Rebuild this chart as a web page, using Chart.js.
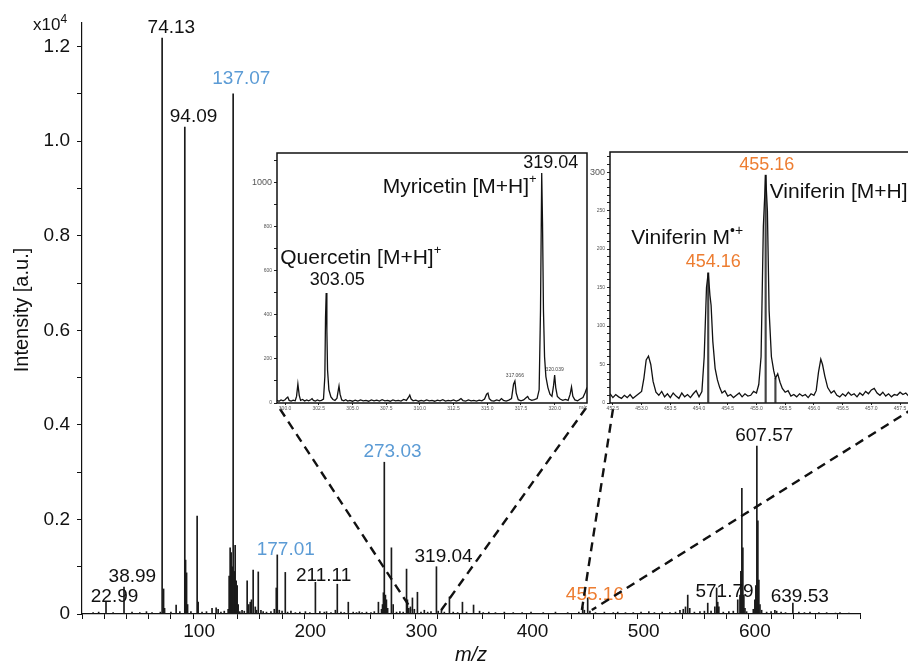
<!DOCTYPE html>
<html><head><meta charset="utf-8">
<script src="https://cdn.jsdelivr.net/npm/chart.js@4.4.1/dist/chart.umd.min.js"></script>
<style>
html,body{margin:0;padding:0;background:#fff;overflow:hidden;width:908px;height:664px;}
#wrap{position:relative;width:908px;height:664px;overflow:hidden;}
canvas{position:absolute;}
</style></head><body>
<div id="wrap">
<canvas id="main" width="908" height="664" style="left:0;top:0;"></canvas>
<canvas id="ins1" width="352" height="272" style="left:240px;top:145px;"></canvas>
<canvas id="ins2" width="345" height="272" style="left:575px;top:145px;"></canvas>
</div>
<script>
const FONT = "'Liberation Sans', Arial, Helvetica, sans-serif";

// ---------- main spectrum (intensity in x10^4 a.u.) ----------
const mainMz = [10,15,21.6,28,37.8,45,52,58,63,70.5,72.1,73.4,74.3,80,84.7,88,92.5,93.2,94.1,95,98,103.6,104.5,108,112,117,120.7,122.5,125,128,
131.5,132.4,133.3,134.2,135.1,136,137,137.8,138.7,139.6,140.5,142,144,146,148.6,150,151.4,152.5,154,155.9,157,158.6,161,163,166,170,173,174.8,175.7,177.5,
180,182.9,185,188,192,196,201,205,210,214,218,220,224,228,229.7,233,236,239.6,244,247,249.5,252,256,260,263,266.7,269.5,270.4,271.2,272,273,273.9,275,278.4,280,
283,286,289,292,292.8,294,295.5,297.3,299,301.8,305,308,311,314,318.9,320.5,323.4,326,330.6,334,338,342.3,346,352.3,357.7,361,366,372,380,388,396,404,415,426,437,447,
450.5,452,455,457,462,470,478,482,489,496,503,510,515,522,529,534,538,541,543,545,546.8,551,556,560,563,566,569.4,571,572,573,577,582,586,590,592,592.8,593.7,594.6,595.5,596.5,598,
604,605.4,606.3,607.2,608.1,609,610,611.5,616,620,623.4,625,629,633,639.6,645,650,655,663,670,678,682,690];
const mainInt = [0.003,0.004,0.025,0.003,0.057,0.004,0.003,0.005,0.003,0.004,1.218,0.053,0.012,0.004,0.019,0.005,1.03,0.114,0.087,0.02,0.005,0.207,0.025,0.004,0.005,0.012,0.013,0.01,0.004,0.006,
0.01,0.08,0.14,0.13,0.1,1.10,0.09,0.145,0.07,0.06,0.02,0.005,0.008,0.006,0.07,0.02,0.025,0.03,0.093,0.015,0.008,0.089,0.008,0.005,0.004,0.005,0.01,0.055,0.125,0.008,
0.006,0.088,0.004,0.006,0.003,0.004,0.005,0.003,0.067,0.005,0.004,0.005,0.003,0.008,0.063,0.004,0.003,0.025,0.004,0.003,0.005,0.003,0.004,0.003,0.005,0.025,0.01,0.02,0.045,0.321,0.04,0.03,0.012,0.14,0.02,
0.004,0.005,0.004,0.095,0.03,0.012,0.015,0.034,0.01,0.046,0.004,0.008,0.004,0.005,0.1,0.006,0.01,0.004,0.036,0.004,0.003,0.025,0.004,0.019,0.006,0.003,0.004,0.003,0.004,0.003,0.003,0.004,0.003,0.004,0.003,0.004,
0.015,0.008,0.034,0.006,0.003,0.004,0.003,0.004,0.003,0.003,0.004,0.005,0.003,0.004,0.003,0.004,0.008,0.01,0.015,0.04,0.012,0.004,0.005,0.006,0.023,0.006,0.015,0.055,0.025,0.015,0.004,0.005,0.006,0.03,0.04,0.09,0.266,0.14,0.04,0.012,0.005,
0.01,0.03,0.06,0.355,0.197,0.072,0.02,0.008,0.004,0.005,0.008,0.006,0.004,0.003,0.023,0.004,0.003,0.004,0.003,0.003,0.002,0.003,0.002];

const peakLabels = ['22.99','38.99','74.13','94.09','137.07','177.01','211.11','273.03','319.04','455.16','571.79','607.57','639.53'];
const peakLabelAt = [0.015,0.057,1.218,1.03,1.11,0.115,0.06,0.321,0.1,0.02,0.025,0.355,0.015];
const peakLabelKind = ['k','k','k','k','b','b','k','b','k','o','k','k','k'];
const COLORS = {k:'#111', b:'#5B9BD5', o:'#ED7D31'};

// ---------- inset 1: 299.4 - 322.4 ----------
const ins1Mz = [299.40,299.55,299.70,299.85,300.00,300.10,300.20,300.30,300.45,300.60,300.75,300.85,300.95,301.05,301.15,301.30,301.45,301.60,301.75,301.90,
302.00,302.10,302.25,302.40,302.55,302.70,302.85,302.95,303.00,303.05,303.10,303.15,303.25,303.40,303.55,303.70,303.85,303.95,304.00,304.08,304.20,304.35,304.50,304.65,304.80,
305.00,305.20,305.40,305.60,305.80,306.00,306.20,306.40,306.60,306.80,307.00,307.20,307.40,307.60,307.80,308.00,308.20,308.40,308.60,308.80,309.00,309.15,309.25,309.35,309.50,309.70,309.90,
310.10,310.30,310.50,310.70,310.90,311.10,311.30,311.50,311.70,311.90,312.10,312.30,312.50,312.70,312.90,313.05,313.20,313.40,313.60,313.80,314.00,314.20,314.40,314.60,314.80,314.95,315.05,315.15,315.30,
315.50,315.70,315.90,316.05,316.20,316.40,316.60,316.80,316.95,317.05,317.15,317.30,317.50,317.70,317.90,318.00,318.10,318.30,318.50,318.70,318.85,318.95,319.04,319.10,319.17,319.25,319.35,319.50,319.65,319.80,319.92,
320.00,320.08,320.20,320.40,320.60,320.80,321.00,321.15,321.25,321.35,321.50,321.70,321.90,322.10,322.25,322.40];
const ins1Int = [12,8,14,10,15,22,27,12,9,13,10,30,86,35,12,16,9,14,10,15,
20,12,9,14,10,12,18,120,390,500,330,150,60,28,16,12,22,60,77,40,14,10,15,9,12,
8,13,9,14,10,12,8,14,10,13,9,15,10,12,8,14,10,12,9,16,12,25,36,18,10,13,8,
12,9,14,10,12,8,13,10,15,9,12,10,14,9,13,20,11,9,14,10,12,9,13,10,18,40,45,20,11,
9,14,10,20,12,9,13,20,85,100,45,15,10,14,25,30,18,12,15,20,60,420,1045,820,420,210,120,70,40,30,80,
127,70,30,18,12,16,12,40,73,30,14,10,18,25,45,70];

// ---------- inset 2: 452.45 - 457.76 ----------
const ins2Mz = [452.45,452.50,452.55,452.60,452.65,452.70,452.75,452.80,452.85,452.90,452.95,453.00,453.04,453.08,453.12,453.16,453.20,453.25,453.30,453.35,453.40,453.45,453.50,453.55,453.60,453.65,453.70,453.75,453.80,453.85,453.90,453.95,
454.00,454.05,454.09,454.13,454.16,454.19,454.21,454.24,454.28,454.32,454.36,454.40,454.45,454.50,454.55,454.60,454.65,454.70,454.75,454.80,454.85,454.90,454.95,
455.00,455.04,455.08,455.12,455.16,455.19,455.22,455.26,455.30,455.33,455.37,455.41,455.45,455.50,455.55,455.60,455.65,455.70,455.75,455.80,455.85,455.90,455.95,
456.00,456.04,456.08,456.12,456.15,456.19,456.24,456.30,456.35,456.40,456.45,456.50,456.55,456.60,456.65,456.70,456.75,456.80,456.85,456.90,456.95,
457.00,457.05,457.10,457.15,457.20,457.25,457.30,457.35,457.40,457.45,457.50,457.55,457.60,457.65,457.70,457.76];
const ins2Int = [12,7,11,8,6,10,7,11,6,9,12,15,32,56,61,50,28,14,10,15,8,12,7,13,9,6,13,8,11,7,12,16,
8,15,60,150,169,140,127,80,45,30,20,13,16,9,11,7,10,13,8,12,9,10,15,
13,24,60,230,296,250,120,60,42,32,38,27,19,14,16,9,11,8,12,9,11,7,12,
10,16,40,57,50,35,20,13,16,10,8,12,9,14,10,12,8,13,10,15,12,
17,19,13,10,14,9,12,8,11,10,14,11,13,9,12,18];
const ins2StickMz = [454.16,455.16,455.33];
const ins2StickInt = [169,296,32];

// ---------- helpers ----------
function textRun(ctx, runs, x, y, align){
  let w = 0;
  runs.forEach(r=>{ ctx.font = r[1]+'px '+FONT; w += ctx.measureText(r[0]).width; });
  let sx = align==='right' ? x-w : (align==='center' ? x-w/2 : x);
  ctx.textAlign='left'; ctx.textBaseline='middle';
  runs.forEach(r=>{ ctx.font = r[1]+'px '+FONT; ctx.fillText(r[0], sx, y - r[2]); sx += ctx.measureText(r[0]).width; });
}
const pts = (xs, ys) => xs.map((x,i)=>({x:x, y:ys[i]}));

function insetOptions(o){
  return {
    responsive:false, animation:false, devicePixelRatio: window.devicePixelRatio||1,
    layout:{padding:{left:0, top:o.padTop, right:5, bottom:0}},
    plugins:{legend:{display:false}, tooltip:{enabled:false}},
    scales:{
      x:{type:'linear', min:o.xmin, max:o.xmax, offset:false,
        ticks:{stepSize:o.xstep, includeBounds:false, autoSkip:false, maxRotation:0, padding:1,
          font:{family:FONT, size:5}, color:'#555', callback:v=>v.toFixed(1)},
        grid:{display:true, drawOnChartArea:false, drawTicks:true, tickLength:2, color:'#222', offset:false},
        border:{display:false},
        afterFit:s=>{ s.height = 14; }
      },
      y:{min:0, max:o.ymax,
        ticks:{stepSize:o.ystep, includeBounds:false, autoSkip:false, padding:2, color:'#555',
          font:(c)=>({family:FONT, size:(c.tick && c.tick.value===o.bigTick) ? 9 : 5}),
          callback:v=> (Math.round(v)%o.ylab===0) ? String(Math.round(v)) : ''},
        grid:{display:true, drawOnChartArea:false, drawTicks:true, tickLength:3, color:'#222'},
        border:{display:false},
        afterFit:s=>{ s.width = o.yW; }
      }
    }
  };
}
const boxPlugin = {
  id:'box',
  beforeDatasetsDraw(chart){
    const a = chart.chartArea, ctx = chart.ctx;
    ctx.save(); ctx.fillStyle='#fff'; ctx.fillRect(a.left, a.top, a.right-a.left, a.bottom-a.top); ctx.restore();
  },
  afterDatasetsDraw(chart){
    const a = chart.chartArea, ctx = chart.ctx;
    ctx.save(); ctx.strokeStyle='#111'; ctx.lineWidth=1.5;
    ctx.strokeRect(a.left, a.top, a.right-a.left, a.bottom-a.top); ctx.restore();
  }
};

// ---------- inset 1 ----------
const ins1 = new Chart(document.getElementById('ins1'), {
  type:'line',
  data:{datasets:[{data:pts(ins1Mz, ins1Int), borderColor:'#111', borderWidth:1.3, pointRadius:0, tension:0}]},
  options: insetOptions({padTop:8, xmin:299.4, xmax:322.4, xstep:2.5, ymax:1136, ystep:100, ylab:200, bigTick:1000, yW:37}),
  plugins:[boxPlugin, {
    id:'lab1',
    afterDraw(chart){
      const ctx = chart.ctx, xs = chart.scales.x, ys = chart.scales.y, a = chart.chartArea;
      ctx.save(); ctx.fillStyle='#111';
      const mX = xs.getPixelForValue(319.04), mY = ys.getPixelForValue(1045);
      textRun(ctx, [['319.04',18,0]], mX+9, mY-10, 'center');
      textRun(ctx, [['Myricetin [M+H]',21,0],['+',13,8]], mX-5, mY+14, 'right');
      const qX = xs.getPixelForValue(303.05), qY = ys.getPixelForValue(500);
      textRun(ctx, [['Quercetin [M+H]',21,0],['+',13,8]], qX-46, qY-35, 'left');
      textRun(ctx, [['303.05',18,0]], qX+11, qY-13, 'center');
      ctx.fillStyle='#444';
      textRun(ctx, [['317.066',5,0]], xs.getPixelForValue(317.05), ys.getPixelForValue(100)-5, 'center');
      textRun(ctx, [['320.039',5,0]], xs.getPixelForValue(320.0), ys.getPixelForValue(127)-5, 'center');
      ctx.fillStyle='#555';
      textRun(ctx, [['m/z',5,0]], a.right-4, a.bottom+5, 'center');
      ctx.restore();
    }
  }]
});

// ---------- inset 2 ----------
const ins2 = new Chart(document.getElementById('ins2'), {
  type:'line',
  data:{datasets:[
    {type:'line', data:pts(ins2Mz, ins2Int), borderColor:'#111', borderWidth:1.3, pointRadius:0, tension:0},
    {type:'bar', data:pts(ins2StickMz, ins2StickInt), backgroundColor:'#444', barThickness:1.5, grouped:false}
  ]},
  options: insetOptions({padTop:7, xmin:452.45, xmax:457.76, xstep:0.5, ymax:326, ystep:10, ylab:50, bigTick:300, yW:35}),
  plugins:[boxPlugin, {
    id:'lab2',
    afterDraw(chart){
      const ctx = chart.ctx, xs = chart.scales.x, ys = chart.scales.y;
      ctx.save();
      const aX = xs.getPixelForValue(455.16), aY = ys.getPixelForValue(296);
      ctx.fillStyle = COLORS.o;
      textRun(ctx, [['455.16',18,0]], aX+1, aY-10, 'center');
      ctx.fillStyle = '#111';
      textRun(ctx, [['Viniferin [M+H]',21,0],['+',13,8]], aX+4, aY+17, 'left');
      const bX = xs.getPixelForValue(454.16), bY = ys.getPixelForValue(169);
      textRun(ctx, [['Viniferin M',21,0],['\u2022+',14,7]], bX-77, bY-35, 'left');
      ctx.fillStyle = COLORS.o;
      textRun(ctx, [['454.16',18,0]], bX+5, bY-11, 'center');
      ctx.restore();
    }
  }]
});

const insets = [{chart:ins1, left:240, top:145}, {chart:ins2, left:575, top:145}];

// ---------- main chart ----------
const mainPlugin = {
  id:'mainOverlay',
  afterDraw(chart){
    const ctx = chart.ctx, xs = chart.scales.x, ys = chart.scales.y;
    ctx.save();
    ctx.fillStyle = '#111';
    textRun(ctx, [['x10',17,0],['4',12,5]], 33, 25, 'left');
    ctx.save();
    ctx.translate(22, 310); ctx.rotate(-Math.PI/2);
    ctx.font = '20px '+FONT; ctx.textAlign='center'; ctx.textBaseline='middle';
    ctx.fillText('Intensity [a.u.]', 0, 0);
    ctx.restore();
    ctx.font = 'italic 20px '+FONT; ctx.textAlign='center'; ctx.textBaseline='middle';
    ctx.fillText('m/z', (xs.left+xs.right)/2, 655);
    peakLabels.forEach((t,i)=>{
      ctx.fillStyle = COLORS[peakLabelKind[i]];
      textRun(ctx, [[t,19,0]], xs.getPixelForValue(parseFloat(t))+7, ys.getPixelForValue(peakLabelAt[i])-10, 'center');
    });
    // dashed zoom connectors
    ctx.strokeStyle = '#111'; ctx.lineWidth = 2.4; ctx.setLineDash([9,6]);
    const yEnd = ys.getPixelForValue(0) - 4;
    insets.forEach(ins=>{
      const c = ins.chart, a = c.chartArea;
      const L = ins.left + a.left, R = ins.left + a.right, B = ins.top + a.bottom;
      ctx.beginPath();
      ctx.moveTo(L+3, B+6); ctx.lineTo(xs.getPixelForValue(c.scales.x.min)-3, yEnd);
      ctx.moveTo(R-1, B+5); ctx.lineTo(xs.getPixelForValue(c.scales.x.max)+1, yEnd);
      ctx.stroke();
    });
    ctx.restore();
  }
};

new Chart(document.getElementById('main'), {
  type:'bar',
  data:{datasets:[{data:pts(mainMz, mainInt), backgroundColor:'#1a1a1a', barThickness:1, grouped:false, borderWidth:0}]},
  options:{
    responsive:false, animation:false,
    layout:{padding:{left:0, top:23, right:48, bottom:0}},
    plugins:{legend:{display:false}, tooltip:{enabled:false}},
    scales:{
      x:{type:'linear', min:0, max:700, offset:false,
        ticks:{stepSize:20, includeBounds:false, autoSkip:false, maxRotation:0, labelOffset:6, padding:1,
          font:{family:FONT, size:19}, color:'#111',
          callback:v=> (Math.round(v)%100===0 && v>0 && v<700) ? String(Math.round(v)) : ''},
        grid:{display:true, drawOnChartArea:false, drawTicks:true, tickLength:5, color:'#111', offset:false},
        border:{display:true, color:'#111', width:1.2},
        afterFit:s=>{ s.height = 50; }
      },
      y:{min:0, max:1.25,
        ticks:{stepSize:0.1, includeBounds:false, autoSkip:false, padding:7,
          font:{family:FONT, size:19}, color:'#111',
          callback:v=>{ const k = Math.round(v*10); if (k%2) return ''; return k===0 ? '0' : (k/10).toFixed(1); }},
        grid:{display:true, drawOnChartArea:false, drawTicks:true, tickLength:5, color:'#111'},
        border:{display:true, color:'#111', width:1.2},
        afterFit:s=>{ s.width = 82; }
      }
    }
  },
  plugins:[mainPlugin]
});
</script>
</body></html>
